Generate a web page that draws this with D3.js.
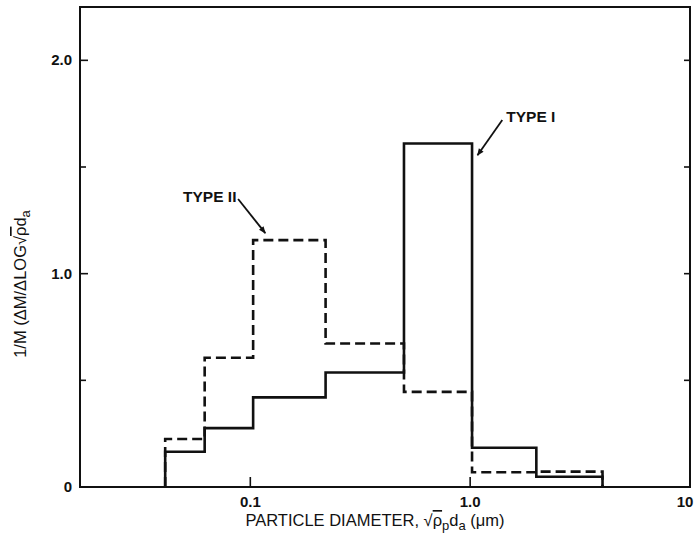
<!DOCTYPE html>
<html>
<head>
<meta charset="utf-8">
<script src="https://cdn.jsdelivr.net/npm/d3@7"></script>
<style>
  body { margin: 0; background: #fff; }
  svg text { font-family: "Liberation Sans", Arial, sans-serif; fill: #111; }
</style>
</head>
<body>
<script>
// bin edges (particle diameter, um) and normalized mass per bin
var binEdges = [0.041, 0.062, 0.103, 0.22, 0.5, 1.02, 2.0, 4.0];
var typeI = [0.165, 0.276, 0.42, 0.537, 1.61, 0.184, 0.048];
var typeII = [0.225, 0.606, 1.157, 0.673, 0.446, 0.069, 0.072];

var yTickValues = [0, 0.5, 1.0, 1.5, 2.0];
var yTickLabels = {"0": "0", "1": "1.0", "2": "2.0"};
var xTickValues = [0.1, 1.0, 10];
var xTickLabels = ["0.1", "1.0", "10"];

var width = 695, height = 545;

var x = d3.scaleLog().domain([0.0168, 10]).range([80, 690]);
var y = d3.scaleLinear().domain([0, 2.25]).range([487, 7]);

var svg = d3.select('body').append('svg')
    .attr('width', width)
    .attr('height', height);

// frame
svg.append('rect')
    .attr('x', x.range()[0]).attr('y', y.range()[1])
    .attr('width', x.range()[1] - x.range()[0])
    .attr('height', y.range()[0] - y.range()[1])
    .attr('fill', 'none').attr('stroke', '#111').attr('stroke-width', 2);

// left ticks (inward) + labels
svg.selectAll('.ytick').data(yTickValues).enter().append('line')
    .attr('x1', x.range()[0]).attr('x2', function(d) { return x.range()[0] + (yTickLabels[d] ? 8 : 6); })
    .attr('y1', y).attr('y2', y)
    .attr('stroke', '#111').attr('stroke-width', 1.6);
svg.selectAll('.ytickr').data(yTickValues.slice(1)).enter().append('line')
    .attr('x1', x.range()[1]).attr('x2', x.range()[1] - 6)
    .attr('y1', y).attr('y2', y)
    .attr('stroke', '#111').attr('stroke-width', 1.6);
svg.selectAll('.ylab').data(yTickValues.filter(function(d) { return yTickLabels[d]; })).enter().append('text')
    .attr('x', 72).attr('y', function(d) { return y(d) + 5; })
    .attr('text-anchor', 'end')
    .attr('font-size', 15).attr('font-weight', 'bold')
    .text(function(d) { return yTickLabels[d]; });

// bottom ticks + labels
svg.selectAll('.xtick').data(xTickValues).enter().append('line')
    .attr('x1', x).attr('x2', x)
    .attr('y1', y.range()[0]).attr('y2', y.range()[0] - 10)
    .attr('stroke', '#111').attr('stroke-width', 1.6);
svg.selectAll('.xlab').data(xTickValues).enter().append('text')
    .attr('x', function(d, i) { return i === 2 ? 685 : x(d); }).attr('y', 507)
    .attr('text-anchor', 'middle')
    .attr('font-size', 15).attr('font-weight', 'bold')
    .text(function(d, i) { return xTickLabels[i]; });

// step outlines
function stepPoints(vals) {
  var pts = [[binEdges[0], 0]];
  vals.forEach(function(v, i) {
    pts.push([binEdges[i], v]);
    pts.push([binEdges[i + 1], v]);
  });
  pts.push([binEdges[vals.length], 0]);
  return pts;
}
var line = d3.line().x(function(d) { return x(d[0]); }).y(function(d) { return y(d[1]); });

svg.append('path').datum(stepPoints(typeII))
    .attr('d', line).attr('fill', 'none')
    .attr('stroke', '#111').attr('stroke-width', 2.6)
    .attr('stroke-dasharray', '10,5');
svg.append('path').datum(stepPoints(typeI))
    .attr('d', line).attr('fill', 'none')
    .attr('stroke', '#111').attr('stroke-width', 2.6);

// annotations
var defs = svg.append('defs');
defs.append('marker').attr('id', 'arr')
    .attr('viewBox', '0 0 10 10').attr('refX', 9).attr('refY', 5)
    .attr('markerWidth', 7).attr('markerHeight', 4).attr('orient', 'auto')
    .attr('markerUnits', 'strokeWidth')
    .append('path').attr('d', 'M0,1 L10,5 L0,9 Z').attr('fill', '#111');

var notes = [
  {label: 'TYPE I', tx: 1.46, ty: 1.735, anchor: 'start', from: [1.40, 1.72], to: [1.08, 1.555]},
  {label: 'TYPE II', tx: 0.0865, ty: 1.36, anchor: 'end', from: [0.088, 1.35], to: [0.117, 1.19]}
];
notes.forEach(function(n) {
  svg.append('line')
      .attr('x1', x(n.from[0])).attr('y1', y(n.from[1]))
      .attr('x2', x(n.to[0])).attr('y2', y(n.to[1]))
      .attr('stroke', '#111').attr('stroke-width', 1.8)
      .attr('marker-end', 'url(#arr)');
  svg.append('text')
      .attr('x', x(n.tx)).attr('y', y(n.ty) + 5.5)
      .attr('text-anchor', n.anchor)
      .attr('font-size', 15.5).attr('font-weight', 'bold')
      .text(n.label);
});

// axis titles
var xt = svg.append('text')
    .attr('x', 375).attr('y', 526)
    .attr('text-anchor', 'middle').attr('font-size', 16.5);
xt.append('tspan').text('PARTICLE DIAMETER, √');
xt.append('tspan').attr('text-decoration', 'overline').text('ρ');
xt.append('tspan').attr('font-size', 13).attr('dy', 4).text('p');
xt.append('tspan').attr('dy', -4).text('d');
xt.append('tspan').attr('font-size', 13).attr('dy', 4).text('a');
xt.append('tspan').attr('dy', -4).text(' (μm)');

var yt = svg.append('text')
    .attr('transform', 'translate(26,284) rotate(-90)')
    .attr('text-anchor', 'middle').attr('font-size', 16.5);
yt.append('tspan').text('1/M (ΔM/ΔLOG√');
yt.append('tspan').attr('text-decoration', 'overline').text('ρ');
yt.append('tspan').text('d');
yt.append('tspan').attr('font-size', 13).attr('dy', 4).text('a');
</script>
</body>
</html>
